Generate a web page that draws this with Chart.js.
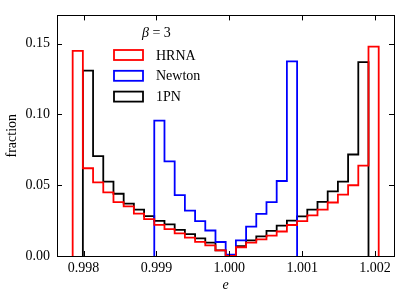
<!DOCTYPE html>
<html>
<head>
<meta charset="utf-8">
<script src="https://cdn.jsdelivr.net/npm/chart.js@4/dist/chart.umd.min.js"></script>
<style>
  html, body { margin: 0; padding: 0; background: #fff; }
</style>
</head>
<body>
<canvas id="chart" width="399" height="300"></canvas>
<script>
// histogram bin edges (30 bins, shared by all three runs)
const binEdges = [
  0.99785, 0.99799, 0.99813, 0.99827, 0.99841, 0.99855, 0.99869, 0.99883,
  0.99897, 0.99911, 0.99925, 0.99939, 0.99953, 0.99967, 0.99981, 0.99995,
  1.00009, 1.00023, 1.00037, 1.00051, 1.00065, 1.00079, 1.00093, 1.00107,
  1.00121, 1.00135, 1.00149, 1.00163, 1.00177, 1.00191, 1.00205
];

// fraction per bin
const hrna = [
  0.145, 0.062, 0.052, 0.045, 0.038, 0.035, 0.030, 0.026, 0.022, 0.019,
  0.016, 0.013, 0.010, 0.0075, 0.004, 0.0, 0.0062, 0.0094, 0.0117, 0.0144,
  0.0173, 0.0219, 0.0246, 0.0287, 0.0328, 0.0378, 0.0434, 0.050, 0.0638, 0.148
];
const newton = [
  0, 0, 0, 0, 0, 0, 0, 0, 0.0956, 0.0668,
  0.043, 0.032, 0.0246, 0.018, 0.0099, 0.001, 0.011, 0.0207, 0.0298, 0.038,
  0.053, 0.1375, 0, 0, 0, 0, 0, 0, 0, 0
];
const onePN = [
  0, 0.131, 0.0706, 0.0525, 0.044, 0.037, 0.0328, 0.0282, 0.0248, 0.0223,
  0.0185, 0.0155, 0.0124, 0.0094, 0.004, 0.0, 0.007, 0.011, 0.0139, 0.0178,
  0.0214, 0.025, 0.028, 0.0328, 0.0382, 0.0457, 0.0525, 0.0717, 0.137, 0
];

const seriesNames = ["HRNA", "Newton", "1PN"];
const seriesColors = ["#ff0000", "#0000ff", "#000000"];

const xTicks = [0.998, 0.999, 1.000, 1.001, 1.002];
const yTicks = [0.00, 0.05, 0.10, 0.15];

const serif = '"Liberation Serif", "DejaVu Serif", serif';

// outline points for a step histogram, skipping empty bins at both ends
function stepPoints(values) {
  const first = values.findIndex(v => v > 0);
  let last = values.length - 1;
  while (last > first && !(values[last] > 0)) last--;
  const pts = [{ x: binEdges[first], y: 0 }];
  for (let i = first; i <= last; i++) {
    pts.push({ x: binEdges[i + 1], y: values[i] });
  }
  pts.push({ x: binEdges[last + 1], y: 0 });
  return pts;
}

// inward ticks on all four sides plus the frame
const frameTicks = {
  id: "frameTicks",
  afterDatasetsDraw(chart) {
    const { ctx, chartArea: a, scales } = chart;
    const len = 5;
    ctx.save();
    ctx.strokeStyle = "#000";
    ctx.lineWidth = 1;
    ctx.beginPath();
    xTicks.forEach(v => {
      const px = Math.round(scales.x.getPixelForValue(v)) + 0.5;
      ctx.moveTo(px, a.bottom); ctx.lineTo(px, a.bottom - len);
      ctx.moveTo(px, a.top); ctx.lineTo(px, a.top + len);
    });
    yTicks.forEach(v => {
      const py = Math.round(scales.y.getPixelForValue(v)) + 0.5;
      ctx.moveTo(a.left, py); ctx.lineTo(a.left + len, py);
      ctx.moveTo(a.right, py); ctx.lineTo(a.right - len, py);
    });
    ctx.stroke();
    ctx.strokeRect(Math.round(a.left) + 0.5, Math.round(a.top) + 0.5,
      Math.round(a.right - a.left), Math.round(a.bottom - a.top));
    ctx.restore();
  }
};

// legend with a title, drawn inside the axes
const boxLegend = {
  id: "boxLegend",
  afterDraw(chart) {
    const ctx = chart.ctx;
    ctx.save();
    ctx.fillStyle = "#000";
    ctx.textBaseline = "middle";
    ctx.textAlign = "left";
    // title: beta = 3
    ctx.font = "italic 14px " + serif;
    let tx = 142;
    ctx.fillText("β", tx, 33);
    tx += ctx.measureText("β").width;
    ctx.font = "14px " + serif;
    ctx.fillText(" = 3", tx, 33);

    chart.data.datasets.forEach((ds, i) => {
      const cy = 55 + i * 20.8;
      ctx.strokeStyle = ds.borderColor;
      ctx.lineWidth = 1.8;
      ctx.strokeRect(114, cy - 5, 29, 10);
      ctx.fillStyle = "#000";
      ctx.font = "14px " + serif;
      ctx.fillText(ds.label, 156, cy + 1);
    });
    ctx.restore();
  }
};

const datasets = [hrna, newton, onePN].map((vals, i) => ({
  label: seriesNames[i],
  data: stepPoints(vals),
  borderColor: seriesColors[i],
  backgroundColor: "transparent",
  borderWidth: 1.8,
  stepped: "after",
  pointRadius: 0,
  fill: false,
  tension: 0,
}));

new Chart(document.getElementById("chart"), {
  type: "line",
  data: { datasets },
  options: {
    responsive: false,
    animation: false,
    layout: { padding: { left: 0, right: 5, top: 5, bottom: 0 } },
    plugins: {
      legend: { display: false },
      tooltip: { enabled: false },
    },
    scales: {
      x: {
        type: "linear",
        min: 0.997635,
        max: 1.00226,
        grid: { display: false, drawTicks: false },
        border: { display: false },
        afterBuildTicks: s => { s.ticks = xTicks.map(v => ({ value: v })); },
        afterFit: s => { s.height = 44; },
        ticks: {
          color: "#000",
          font: { family: serif, size: 14 },
          padding: 4,
          maxRotation: 0,
          autoSkip: false,
          callback: v => v.toFixed(3),
        },
        title: {
          display: true,
          text: "e",
          color: "#000",
          font: { family: serif, size: 14, style: "italic" },
          padding: { top: 0, bottom: 6 },
        },
      },
      y: {
        min: 0,
        max: 0.17,
        grid: { display: false, drawTicks: false },
        border: { display: false },
        afterBuildTicks: s => { s.ticks = yTicks.map(v => ({ value: v })); },
        afterFit: s => { s.width = 57; },
        ticks: {
          color: "#000",
          font: { family: serif, size: 14 },
          padding: 7,
          autoSkip: false,
          callback: v => v.toFixed(2),
        },
        title: {
          display: true,
          text: "fraction",
          color: "#000",
          font: { family: serif, size: 14 },
          padding: { top: 4, bottom: 0 },
        },
      },
    },
  },
  plugins: [frameTicks, boxLegend],
});
</script>
</body>
</html>
